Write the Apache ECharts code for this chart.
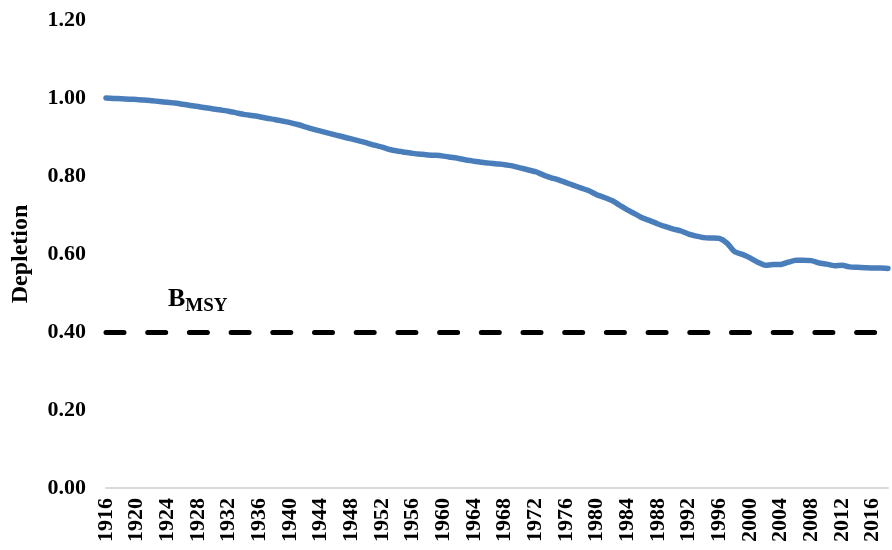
<!DOCTYPE html>
<html>
<head>
<meta charset="utf-8">
<script src="https://cdn.jsdelivr.net/npm/echarts@6/dist/echarts.min.js"></script>
<style>
  html, body { margin: 0; padding: 0; background: #fff; }
  #main { width: 892px; height: 550px; }
</style>
</head>
<body>
<div id="main"></div>
<script>
var firstYear = 1916;
var depletion = [
    1.000, 0.999, 0.998, 0.997, 0.996, 0.995, 0.993, 0.991, 0.989, 0.987,  // 1916-1925
    0.984, 0.981, 0.978, 0.975, 0.972, 0.969, 0.966, 0.962, 0.958, 0.955,  // 1926-1935
    0.952, 0.948, 0.945, 0.941, 0.937, 0.932, 0.926, 0.920, 0.915, 0.910,  // 1936-1945
    0.905, 0.900, 0.895, 0.890, 0.885, 0.879, 0.874, 0.868, 0.864, 0.861,  // 1946-1955
    0.858, 0.856, 0.854, 0.853, 0.851, 0.848, 0.845, 0.841, 0.838, 0.835,  // 1956-1965
    0.833, 0.831, 0.829, 0.826, 0.821, 0.816, 0.811, 0.803, 0.796, 0.790,  // 1966-1975
    0.783, 0.776, 0.769, 0.762, 0.752, 0.745, 0.737, 0.725, 0.713, 0.703,  // 1976-1985
    0.692, 0.685, 0.677, 0.670, 0.664, 0.659, 0.651, 0.646, 0.642, 0.641,  // 1986-1995
    0.640, 0.628, 0.606, 0.599, 0.590, 0.579, 0.571, 0.573, 0.573, 0.579,  // 1996-2005
    0.584, 0.584, 0.583, 0.577, 0.574, 0.570, 0.571, 0.567, 0.566, 0.565,  // 2006-2015
    0.564, 0.564, 0.563                                                    // 2016-2018
];
var bmsy = 0.40;
var yTicks = [0, 0.2, 0.4, 0.6, 0.8, 1.0, 1.2];

var years = [];
for (var i = 0; i < depletion.length; i++) {
    years.push(String(firstYear + i));
}

var serif = 'Liberation Serif';

var myChart = echarts.init(document.getElementById('main'));
var option = {
    animation: false,
    grid: {
        left: 106,
        right: 4,
        top: 20,
        bottom: 62,
        containLabel: false,
        outerBoundsMode: 'none'
    },
    xAxis: {
        type: 'category',
        boundaryGap: false,
        data: years,
        axisLine: {
            show: true,
            lineStyle: { color: '#d9d9d9', width: 2 }
        },
        axisTick: { show: false },
        axisLabel: {
            interval: 3,
            rotate: 90,
            margin: 10,
            color: '#000',
            fontFamily: serif,
            fontWeight: 'bold',
            fontSize: 22
        },
        splitLine: { show: false }
    },
    yAxis: {
        type: 'value',
        min: yTicks[0],
        max: yTicks[yTicks.length - 1],
        interval: 0.2,
        name: 'Depletion',
        nameLocation: 'middle',
        nameGap: 73,
        nameTextStyle: {
            color: '#000',
            fontFamily: serif,
            fontWeight: 'bold',
            fontSize: 24
        },
        axisLine: { show: false },
        axisTick: { show: false },
        splitLine: { show: false },
        axisLabel: {
            margin: 20,
            color: '#000',
            fontFamily: serif,
            fontWeight: 'bold',
            fontSize: 22,
            formatter: function (v) { return v.toFixed(2); }
        }
    },
    series: [
        {
            name: 'Depletion',
            type: 'line',
            data: depletion,
            symbol: 'none',
            smooth: 0.2,
            lineStyle: {
                color: '#4a7ebb',
                width: 5.5,
                cap: 'round',
                join: 'round'
            },
            markLine: {
                silent: true,
                symbol: 'none',
                data: [{ yAxis: bmsy }],
                lineStyle: {
                    color: '#000',
                    width: 5,
                    type: [18, 23.7],
                    cap: 'round'
                },
                label: {
                    show: true,
                    position: 'insideStartTop',
                    distance: [62, 16],
                    formatter: '{b|B}{s|MSY}',
                    rich: {
                        b: {
                            fontFamily: serif,
                            fontWeight: 'bold',
                            fontSize: 26,
                            color: '#000',
                            lineHeight: 30,
                            verticalAlign: 'top'
                        },
                        s: {
                            fontFamily: serif,
                            fontWeight: 'bold',
                            fontSize: 19,
                            color: '#000',
                            lineHeight: 30,
                            verticalAlign: 'bottom'
                        }
                    }
                }
            }
        }
    ]
};
myChart.setOption(option);
window.addEventListener('resize', function () {
    myChart.resize();
});
</script>
</body>
</html>
